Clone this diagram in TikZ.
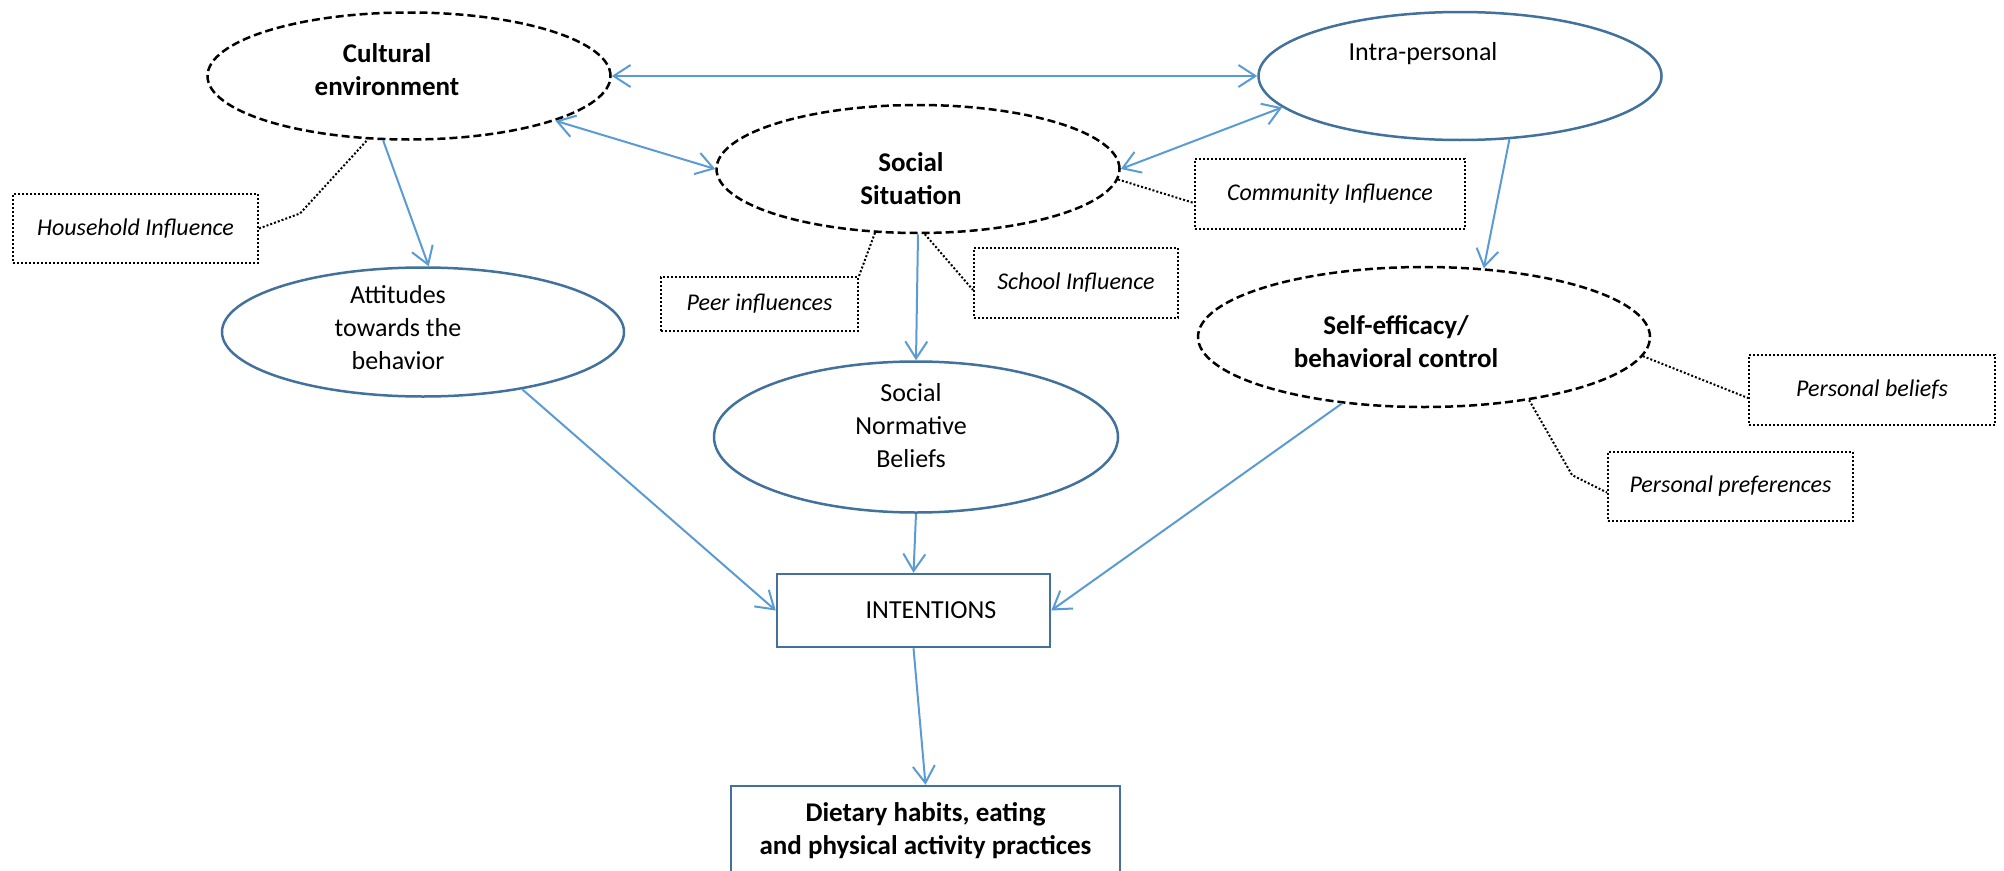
\documentclass[tikz,border=0pt]{standalone}
\usepackage{fontspec}
\setmainfont{Carlito}
\usepackage{xcolor}
\usetikzlibrary{shapes.geometric, arrows.meta}
\definecolor{ovalblue}{HTML}{41719C}
\definecolor{arrblue}{HTML}{5B9BD5}
\tikzset{
  oval/.style     = {ellipse, draw=ovalblue, line width=2.5pt, inner sep=0pt},
  dashoval/.style = {ellipse, draw=black, line width=2.5pt, dash pattern=on 8pt off 4pt,
                     inner sep=0pt},
  plaintxt/.style = {align=center, font=\fontsize{26}{33}\selectfont},
  boldtxt/.style  = {align=center, font=\bfseries\fontsize{27}{33}\selectfont},
  box/.style      = {rectangle, draw=ovalblue, line width=2.5pt, align=center,
                     font=\fontsize{26}{33}\selectfont, inner sep=0pt},
  note/.style     = {rectangle, draw=black, line width=2pt, dotted, align=center,
                     font=\itshape\fontsize{24}{30}\selectfont, inner sep=0pt},
  arr/.style      = {-{Straight Barb[length=17pt,width=22pt]}, line width=2pt, draw=arrblue},
  biarr/.style    = {{Straight Barb[length=17pt,width=22pt]}-{Straight Barb[length=17pt,width=22pt]},
                     line width=2pt, draw=arrblue},
  link/.style     = {dotted, line width=2pt, draw=black}
}
\begin{document}
\begin{tikzpicture}[x=1pt, y=-1pt]
  \useasboundingbox (0,0) rectangle (2004,870);
  \clip (0,0) rectangle (2004,870);
  \node[dashoval, minimum width=403pt, minimum height=127pt,
        label={[boldtxt, xshift=-22pt, yshift=6pt]center:Cultural\\environment}]        (cult)   at (409,76)  {};
  \node[oval,     minimum width=403pt, minimum height=128pt,
        label={[plaintxt, xshift=-37pt, yshift=22pt]center:Intra-personal}]               (intra)  at (1460,76) {};
  \node[dashoval, minimum width=403pt, minimum height=128pt,
        label={[boldtxt, xshift=-7pt, yshift=-10pt]center:Social\\Situation}]            (social) at (918,169) {};
  \node[oval,     minimum width=402pt, minimum height=129pt,
        label={[plaintxt, xshift=-25pt, yshift=4pt]center:Attitudes\\towards the\\behavior}] (att) at (423,332) {};
  \node[oval,     minimum width=404pt, minimum height=151pt,
        label={[plaintxt, xshift=-5pt, yshift=11pt]center:Social\\Normative\\Beliefs}]    (snb)    at (916,437) {};
  \node[dashoval, minimum width=452pt, minimum height=140pt,
        label={[boldtxt, xshift=-28pt, yshift=-5pt]center:Self-efficacy/\\behavioral control}] (self) at (1424,337) {};
  \node[box,      minimum width=273pt, minimum height=73pt]  (intent) at (913.5,610.5) {\hspace*{35pt}INTENTIONS};
  \node[box, font=\bfseries\fontsize{27}{33}\selectfont,
                  minimum width=389pt, minimum height=90pt]  (diet)   at (925.5,831) {Dietary habits, eating\\and physical activity practices};
  \node[note, minimum width=245pt, minimum height=69pt] (house)  at (135.5,228.5) {Household Influence};
  \node[note, minimum width=270pt, minimum height=70pt] (comm)   at (1330,194)    {Community Influence};
  \node[note, minimum width=197pt, minimum height=54pt] (peer)   at (759.5,304)   {Peer influences};
  \node[note, minimum width=204pt, minimum height=70pt] (school) at (1076,283)    {School Influence};
  \node[note, minimum width=246pt, minimum height=70pt] (belief) at (1872,390)    {Personal beliefs};
  \node[note, minimum width=245pt, minimum height=69pt] (pref)   at (1730.5,486.5) {Personal preferences};
  \draw[biarr] (cult.east) -- (cult.east -| intra.west);
  \draw[biarr] (cult.-17) -- (social.west);
  \draw[biarr] (social.east) -- (intra.-170);
  \draw[arr] (cult.-112) -- (att.85);
  \draw[arr] (social.south) -- (snb.north);
  \draw[arr] (intra.-52) -- (self.49);
  \draw[arr] (att.-30) -- (intent.west);
  \draw[arr] (snb.south) -- (intent.north);
  \draw[arr] (self.-141) -- (intent.east);
  \draw[arr] (intent.south) -- (diet.north);
  \draw[link] (house.east) -- ++(41,-15) -- (cult.-123);
  \draw[link] (social.-3) -- ([yshift=-9pt]comm.west);
  \draw[link] (social.-124) -- (peer.north east);
  \draw[link] (social.-84) -- ([yshift=-7pt]school.west);
  \draw[link] (self.-5) -- ([yshift=-8pt]belief.west);
  \draw[link] (self.-31) -- ++(43,75) -- ([yshift=-6pt]pref.west);
\end{tikzpicture}
\end{document}
